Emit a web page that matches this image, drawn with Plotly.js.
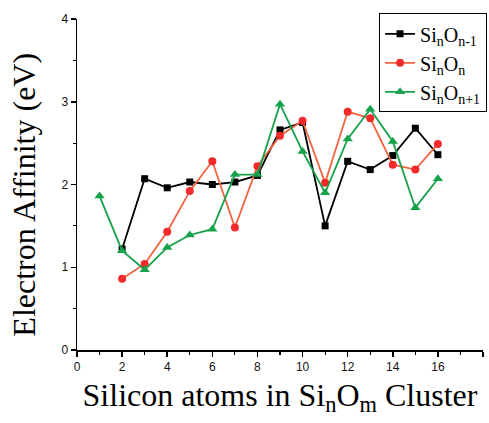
<!DOCTYPE html>
<html>
<head>
<meta charset="utf-8">
<script src="https://cdn.plot.ly/plotly-3.0.1.min.js"></script>
<style>html,body{margin:0;padding:0;background:#fff;}#chart{width:489px;height:423px;}</style>
</head>
<body>
<div id="chart"></div>
<script>
var nBlack = [2,3,4,5,6,7,8,9,10,11,12,13,14,15,16];
var eaBlack = [1.22,2.07,1.96,2.03,2.00,2.03,2.11,2.66,2.75,1.50,2.28,2.18,2.35,2.68,2.36];
var nRed = [2,3,4,5,6,7,8,9,10,11,12,13,14,15,16];
var eaRed = [0.86,1.04,1.43,1.92,2.28,1.48,2.22,2.59,2.77,2.02,2.88,2.80,2.24,2.18,2.49];
var nGreen = [1,2,3,4,5,6,7,8,9,10,11,12,13,14,15,16];
var eaGreen = [1.86,1.20,0.97,1.24,1.39,1.46,2.12,2.12,2.97,2.40,1.90,2.55,2.91,2.52,1.72,2.07];
var names = ["Si<sub>n</sub>O<sub>n-1</sub>", "Si<sub>n</sub>O<sub>n</sub>", "Si<sub>n</sub>O<sub>n+1</sub>"];
var xTitle = "Silicon atoms in Si<sub>n</sub>O<sub>m</sub> Cluster";
var yTitle = "Electron Affinity (eV)";

var traces = [
  {x: nBlack, y: eaBlack, name: names[0], mode: "lines+markers", type: "scatter",
   line: {color: "#000000", width: 1.8}, marker: {symbol: "square", size: 7, color: "#000000"}},
  {x: nRed, y: eaRed, name: names[1], mode: "lines+markers", type: "scatter",
   line: {color: "#f2643f", width: 1.8}, marker: {symbol: "circle", size: 8, color: "#f52a2a"}},
  {x: nGreen, y: eaGreen, name: names[2], mode: "lines+markers", type: "scatter",
   line: {color: "#16a24a", width: 1.8}, marker: {symbol: "triangle-up", size: 9, color: "#16a24a"}}
];

var serif = "Liberation Serif, Times New Roman, serif";
var tickFont = {family: "Liberation Sans, Arial, sans-serif", size: 12, color: "#111"};
var layout = {
  width: 489, height: 423,
  margin: {l: 77, r: 6, t: 19, b: 73, autoexpand: false},
  paper_bgcolor: "#fff", plot_bgcolor: "#fff",
  showlegend: true,
  legend: {x: 1.01, y: 1.017, xanchor: "right", yanchor: "top",
           bgcolor: "#fff", bordercolor: "#000", borderwidth: 1,
           font: {family: serif, size: 20, color: "#000"},
           itemwidth: 30, tracegroupgap: 0},
  xaxis: {range: [0, 18], dtick: 2, tick0: 0, showgrid: false, zeroline: false,
          showline: true, linecolor: "#000", linewidth: 1.5,
          ticks: "outside", ticklen: 5, tickwidth: 1.5, tickcolor: "#000",
          minor: {dtick: 1, ticks: "outside", ticklen: 3, tickwidth: 1.2, tickcolor: "#000", showgrid: false},
          tickfont: tickFont,
          title: {text: xTitle, font: {family: serif, size: 32, color: "#000"}, standoff: 10}},
  yaxis: {range: [0, 4], dtick: 1, tick0: 0, showgrid: false, zeroline: false,
          showline: true, linecolor: "#000", linewidth: 1.5,
          ticks: "outside", ticklen: 5, tickwidth: 1.5, tickcolor: "#000",
          minor: {dtick: 0.5, ticks: "outside", ticklen: 3, tickwidth: 1.2, tickcolor: "#000", showgrid: false},
          tickfont: tickFont},
  annotations: [
    {text: yTitle, xref: "paper", yref: "paper", x: -0.13, y: 0.47, xanchor: "center", yanchor: "middle",
     textangle: -90, showarrow: false, font: {family: serif, size: 32, color: "#000"}}
  ]
};
Plotly.newPlot("chart", traces, layout, {displayModeBar: false, staticPlot: true});
</script>
</body>
</html>
